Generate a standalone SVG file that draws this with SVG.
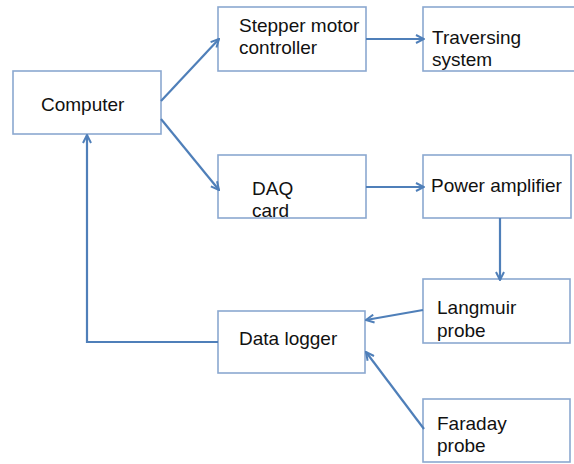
<svg xmlns="http://www.w3.org/2000/svg" width="574" height="464" viewBox="0 0 574 464">
<style>
.box{fill:#fff;stroke:#8ba8d0;stroke-width:1.6}
.t{font-family:"Liberation Sans",Arial,sans-serif;font-size:19px;fill:#111}
.c{fill:none;stroke:#4f7fb9;stroke-width:2.2}
</style>
<defs>
<marker id="ah" markerUnits="userSpaceOnUse" viewBox="0 0 10 10" refX="9" refY="5" markerWidth="10" markerHeight="10" orient="auto">
<path d="M1,1 L9,5 L1,9" fill="none" stroke="#4f7fb9" stroke-width="2"/>
</marker>
</defs>
<rect width="574" height="464" fill="#fff"/>
<g id="computer"><rect class="box" x="13" y="71" width="148" height="63"/><text class="t" x="41" y="111">Computer</text></g>
<g id="stepper"><rect class="box" x="218" y="7" width="148" height="64"/><text class="t" x="239" y="32">Stepper motor</text><text class="t" x="239" y="54">controller</text></g>
<g id="traversing"><rect class="box" x="423" y="7" width="155" height="64"/><text class="t" x="432" y="44">Traversing</text><text class="t" x="432" y="66">system</text></g>
<g id="daq"><rect class="box" x="218" y="155" width="148" height="63"/><text class="t" x="252" y="195">DAQ</text><text class="t" x="252" y="217">card</text></g>
<g id="power"><rect class="box" x="423" y="155" width="148" height="63"/><text class="t" x="431" y="192">Power amplifier</text></g>
<g id="langmuir"><rect class="box" x="423" y="279" width="147" height="64"/><text class="t" x="437" y="314">Langmuir</text><text class="t" x="437" y="337">probe</text></g>
<g id="logger"><rect class="box" x="218" y="311" width="147" height="62"/><text class="t" x="239" y="345">Data logger</text></g>
<g id="faraday"><rect class="box" x="423" y="399" width="147" height="63"/><text class="t" x="437" y="430">Faraday</text><text class="t" x="437" y="452">probe</text></g>
<g id="connectors">
<line class="c" x1="161" y1="101" x2="219" y2="39" marker-end="url(#ah)"/>
<line class="c" x1="161" y1="119" x2="219" y2="190" marker-end="url(#ah)"/>
<line class="c" x1="366" y1="39" x2="424" y2="39" marker-end="url(#ah)"/>
<line class="c" x1="366" y1="187" x2="424" y2="187" marker-end="url(#ah)"/>
<line class="c" x1="500" y1="218" x2="500" y2="280" marker-end="url(#ah)"/>
<line class="c" x1="423" y1="310" x2="366" y2="320" marker-end="url(#ah)"/>
<line class="c" x1="424" y1="429" x2="366" y2="352" marker-end="url(#ah)"/>
<polyline class="c" points="218,342 87,342 87,135" marker-end="url(#ah)"/>
</g>
</svg>
